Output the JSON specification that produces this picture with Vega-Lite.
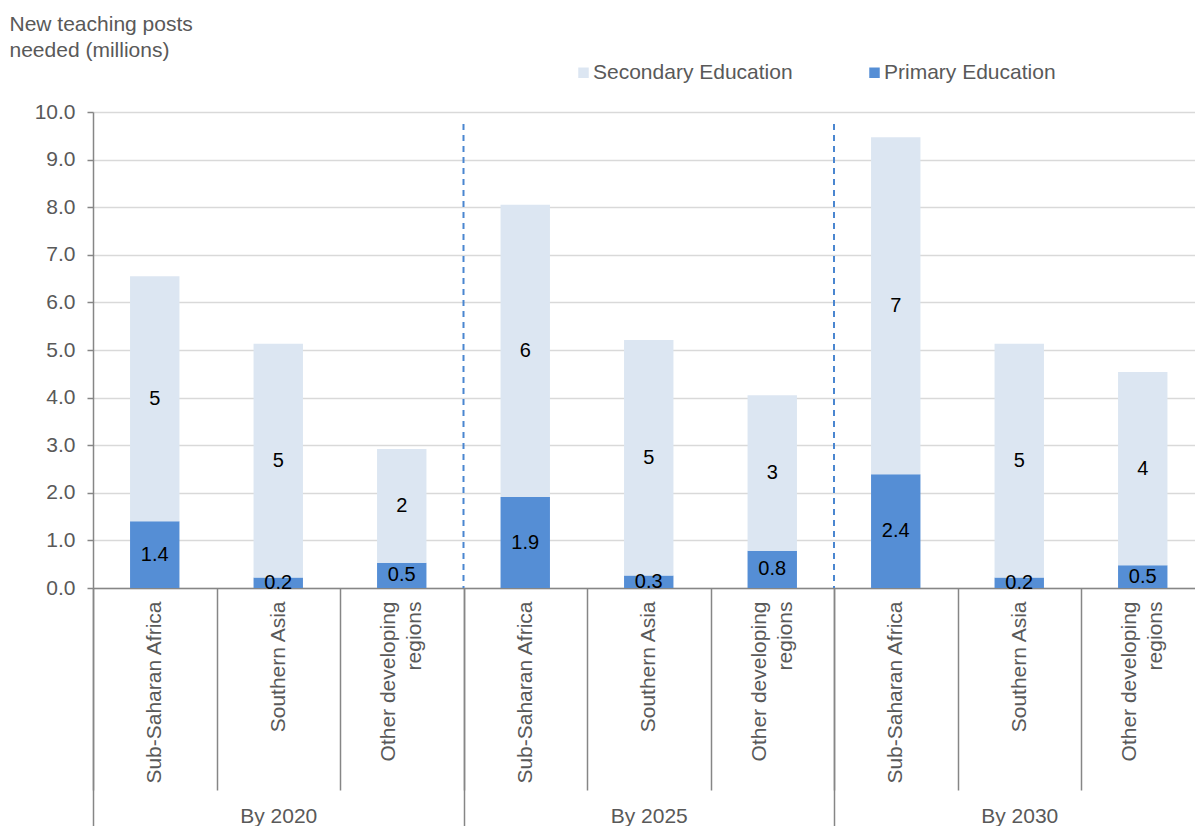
{
  "$schema": "https://vega.github.io/schema/vega-lite/v6.json",
  "width": 1102,
  "height": 476,
  "autosize": {"type": "none"},
  "padding": {"left": 93, "top": 112, "right": 0, "bottom": 238},
  "config": {"font": "Liberation Sans", "view": {"stroke": null}},
  "data": {
    "values": [
      {"year": "By 2020", "cat": "2020|Sub-Saharan Africa", "edu": "Primary Education", "value": 1.4},
      {"year": "By 2020", "cat": "2020|Sub-Saharan Africa", "edu": "Secondary Education", "value": 5.15},
      {"year": "By 2020", "cat": "2020|Southern Asia", "edu": "Primary Education", "value": 0.22},
      {"year": "By 2020", "cat": "2020|Southern Asia", "edu": "Secondary Education", "value": 4.91},
      {"year": "By 2020", "cat": "2020|Other developing|regions", "edu": "Primary Education", "value": 0.53},
      {"year": "By 2020", "cat": "2020|Other developing|regions", "edu": "Secondary Education", "value": 2.39},
      {"year": "By 2025", "cat": "2025|Sub-Saharan Africa", "edu": "Primary Education", "value": 1.91},
      {"year": "By 2025", "cat": "2025|Sub-Saharan Africa", "edu": "Secondary Education", "value": 6.14},
      {"year": "By 2025", "cat": "2025|Southern Asia", "edu": "Primary Education", "value": 0.26},
      {"year": "By 2025", "cat": "2025|Southern Asia", "edu": "Secondary Education", "value": 4.95},
      {"year": "By 2025", "cat": "2025|Other developing|regions", "edu": "Primary Education", "value": 0.78},
      {"year": "By 2025", "cat": "2025|Other developing|regions", "edu": "Secondary Education", "value": 3.27},
      {"year": "By 2030", "cat": "2030|Sub-Saharan Africa", "edu": "Primary Education", "value": 2.39},
      {"year": "By 2030", "cat": "2030|Sub-Saharan Africa", "edu": "Secondary Education", "value": 7.08},
      {"year": "By 2030", "cat": "2030|Southern Asia", "edu": "Primary Education", "value": 0.22},
      {"year": "By 2030", "cat": "2030|Southern Asia", "edu": "Secondary Education", "value": 4.91},
      {"year": "By 2030", "cat": "2030|Other developing|regions", "edu": "Primary Education", "value": 0.48},
      {"year": "By 2030", "cat": "2030|Other developing|regions", "edu": "Secondary Education", "value": 4.06}
    ]
  },
  "layer": [
    {
      "encoding": {
        "x": {
          "field": "cat", "type": "nominal", "sort": null,
          "scale": {"range": [0, 1111.5], "paddingInner": 0, "paddingOuter": 0},
          "axis": {
            "title": null, "orient": "bottom", "domain": true, "domainColor": "#868686", "domainWidth": 1.5,
            "ticks": true, "tickBand": "extent", "tickSize": 202, "tickColor": "#868686", "tickWidth": 1.5,
            "labelAngle": -90, "labelAlign": "right", "labelBaseline": "middle", "labelPadding": -189,
            "labelOffset": -13,
            "labelFontSize": 21, "labelColor": "#595959", "labelLineHeight": 13, "labelLimit": 400,
            "labelOverlap": false,
            "labelExpr": "split(datum.label, '|').length > 2 ? [split(datum.label, '|')[1], '\u200b', split(datum.label, '|')[2]] : ['\u200b', split(datum.label, '|')[1]]",
            "grid": false
          }
        },
        "y": {
          "field": "value", "type": "quantitative", "stack": "zero",
          "scale": {"domain": [0, 10], "nice": false},
          "axis": {
            "title": ["New teaching posts", "needed (millions)"], "titleAngle": 0, "titleAlign": "left",
            "titleBaseline": "alphabetic", "titleX": -84, "titleY": -82, "titleFontSize": 21,
            "titleFontWeight": "normal", "titleColor": "#595959", "titleLineHeight": 26,
            "format": ".1f", "values": [0, 1, 2, 3, 4, 5, 6, 7, 8, 9, 10],
            "labelFontSize": 21, "labelColor": "#595959", "labelPadding": 12,
            "tickSize": 6, "tickColor": "#868686", "tickWidth": 1.5,
            "domainColor": "#868686", "domainWidth": 1.5,
            "grid": true, "gridColor": "#D9D9D9", "gridWidth": 1.5
          }
        },
        "order": {"field": "edu", "type": "nominal", "sort": "ascending"}
      },
      "layer": [
        {
          "mark": {"type": "bar", "width": {"band": 0.4}},
          "encoding": {
            "color": {
              "field": "edu", "type": "nominal",
              "scale": {"domain": ["Secondary Education", "Primary Education"], "range": ["#DCE6F2", "#558ED5"]},
              "legend": {
                "orient": "none", "legendX": 480, "legendY": -50, "direction": "horizontal", "title": null,
                "symbolType": "square", "symbolSize": 110, "symbolStrokeWidth": 0,
                "labelFontSize": 21, "labelColor": "#595959", "labelOffset": -1, "labelLimit": 400,
                "columnPadding": 71, "padding": 0
              }
            }
          }
        },
        {
          "mark": {"type": "text", "fontSize": 20, "color": "#000000", "baseline": "middle", "align": "center"},
          "encoding": {
            "y": {"field": "value", "type": "quantitative", "stack": "zero", "bandPosition": 0.5},
            "detail": {"field": "edu", "type": "nominal"},
            "text": {
              "condition": {"test": "datum.edu === 'Primary Education'", "field": "value", "type": "quantitative", "format": ".1f"},
              "value": ""
            }
          }
        },
        {
          "mark": {"type": "text", "fontSize": 20, "color": "#000000", "baseline": "middle", "align": "center"},
          "encoding": {
            "y": {"field": "value", "type": "quantitative", "stack": "zero", "bandPosition": 0.5},
            "detail": {"field": "edu", "type": "nominal"},
            "text": {
              "condition": {"test": "datum.edu === 'Secondary Education'", "field": "value", "type": "quantitative", "format": ".0f"},
              "value": ""
            }
          }
        }
      ]
    },
    {
      "data": {"values": [{"year": "By 2025"}, {"year": "By 2030"}]},
      "mark": {"type": "rule", "strokeDash": [6, 5], "color": "#4A86D0", "strokeWidth": 2},
      "encoding": {
        "x": {
          "field": "year", "type": "nominal", "bandPosition": 0,
          "scale": {"domain": ["By 2020", "By 2025", "By 2030"], "range": [0, 1111.5], "paddingInner": 0, "paddingOuter": 0},
          "axis": {
            "title": null, "orient": "bottom", "domain": false,
            "ticks": true, "tickBand": "extent", "tickSize": 238, "tickColor": "#868686", "tickWidth": 1.5,
            "labelAngle": 0, "labelAlign": "center", "labelBaseline": "top", "labelPadding": -21,
            "labelFontSize": 21, "labelColor": "#595959", "labelOverlap": false, "grid": false
          }
        },
        "y": {"datum": 9.75, "type": "quantitative"},
        "y2": {"datum": 0}
      }
    }
  ],
  "resolve": {"scale": {"x": "independent"}, "axis": {"x": "independent"}}
}
